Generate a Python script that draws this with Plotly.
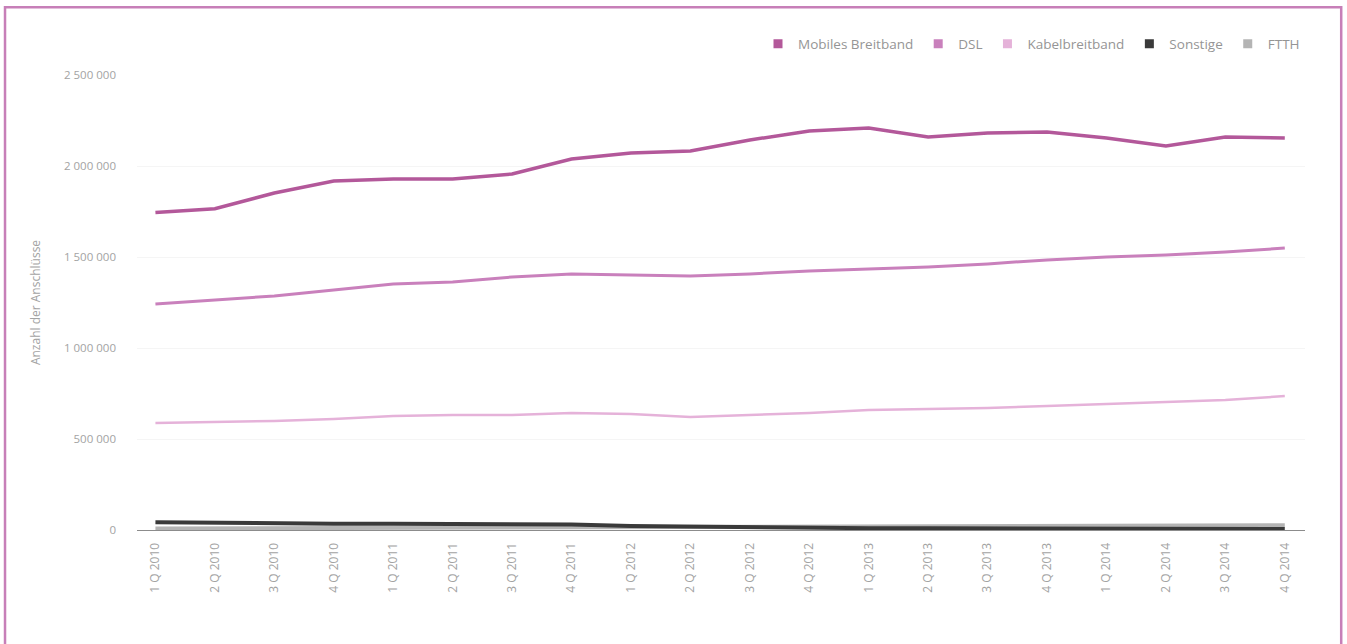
import plotly.graph_objects as go

quarters = [
    "1 Q 2010", "2 Q 2010", "3 Q 2010", "4 Q 2010",
    "1 Q 2011", "2 Q 2011", "3 Q 2011", "4 Q 2011",
    "1 Q 2012", "2 Q 2012", "3 Q 2012", "4 Q 2012",
    "1 Q 2013", "2 Q 2013", "3 Q 2013", "4 Q 2013",
    "1 Q 2014", "2 Q 2014", "3 Q 2014", "4 Q 2014",
]

mobiles_breitband = [
    1745000, 1765000, 1852000, 1918000, 1929000, 1929000, 1956000, 2038000,
    2071000, 2082000, 2143000, 2192000, 2209000, 2159000, 2181000, 2187000,
    2154000, 2110000, 2159000, 2154000,
]
dsl = [
    1242000, 1264000, 1286000, 1319000, 1352000, 1363000, 1390000, 1407000,
    1401000, 1396000, 1407000, 1423000, 1434000, 1445000, 1462000, 1484000,
    1500000, 1511000, 1527000, 1549000,
]
kabelbreitband = [
    588000, 593000, 599000, 610000, 626000, 632000, 632000, 643000,
    637000, 621000, 632000, 643000, 659000, 665000, 670000, 681000,
    692000, 703000, 714000, 736000,
]
sonstige = [
    42000, 38000, 36000, 35000, 34000, 33000, 32000, 30000,
    22000, 18000, 15000, 12000, 10000, 9000, 8000, 7000,
    6000, 6000, 5000, 5000,
]
ftth = [
    8000, 9000, 10000, 10000, 11000, 11000, 12000, 13000,
    14000, 15000, 16000, 17000, 18000, 19000, 20000, 21000,
    22000, 23000, 24000, 26000,
]

series = [
    ("Mobiles Breitband", mobiles_breitband, "#b3589a", 3.5),
    ("DSL", dsl, "#c980bc", 3.0),
    ("Kabelbreitband", kabelbreitband, "#e5b2d9", 2.5),
    ("Sonstige", sonstige, "#3a3a3a", 4.0),
    ("FTTH", ftth, "#b4b4b4", 4.0),
]

FONT = "Open Sans"
GREY = "#a3a3a3"

fig = go.Figure()
# draw lower series first so the dark ones sit on top near zero
for name, values, color, width in reversed(series):
    fig.add_trace(go.Scatter(
        x=list(range(len(quarters))), y=values, mode="lines", name=name,
        line=dict(color=color, width=width), showlegend=False,
        hoverinfo="x+y+name",
    ))
# square legend swatches
for name, values, color, width in series:
    fig.add_trace(go.Scatter(
        x=[None], y=[None], mode="markers", name=name,
        marker=dict(symbol="square", size=9, color=color),
        showlegend=True,
    ))

fig.update_layout(
    width=1347, height=644,
    paper_bgcolor="white", plot_bgcolor="white",
    margin=dict(l=137, r=42, t=75, b=114),
    font=dict(family=FONT, color=GREY, size=11),
    separators=", ",
    legend=dict(
        orientation="h", x=1.0, xanchor="right", y=1.068, yanchor="middle",
        font=dict(family=FONT, size=13.5, color="#959595"),
        itemwidth=30, tracegroupgap=0, bgcolor="rgba(0,0,0,0)",
    ),
    xaxis=dict(
        tickmode="array", tickvals=list(range(len(quarters))), ticktext=quarters,
        tickangle=-90, range=[-0.31, 19.34], showgrid=False, zeroline=False,
        showline=True, linecolor="#8c8c8c", linewidth=1,
        ticks="", tickfont=dict(size=12, color=GREY), ticklabelstandoff=7,
    ),
    yaxis=dict(
        range=[0, 2500000], tickvals=[0, 500000, 1000000, 1500000, 2000000, 2500000],
        tickformat=",d", showgrid=True, gridcolor="#f5f5f5", zeroline=False,
        showline=False, ticks="", tickfont=dict(size=11.5, color=GREY),
        ticklabelstandoff=20,
        title=dict(text="Anzahl der Anschlüsse", font=dict(size=12, color=GREY), standoff=20),
    ),
    shapes=[
        dict(type="rect", xref="paper", yref="paper",
             x0=-0.113, x1=1.031, y0=-0.30, y1=1.149,
             line=dict(color="#c77fb8", width=2.5), fillcolor="rgba(0,0,0,0)",
             layer="below"),
    ],
)

fig.write_html("out.html")
